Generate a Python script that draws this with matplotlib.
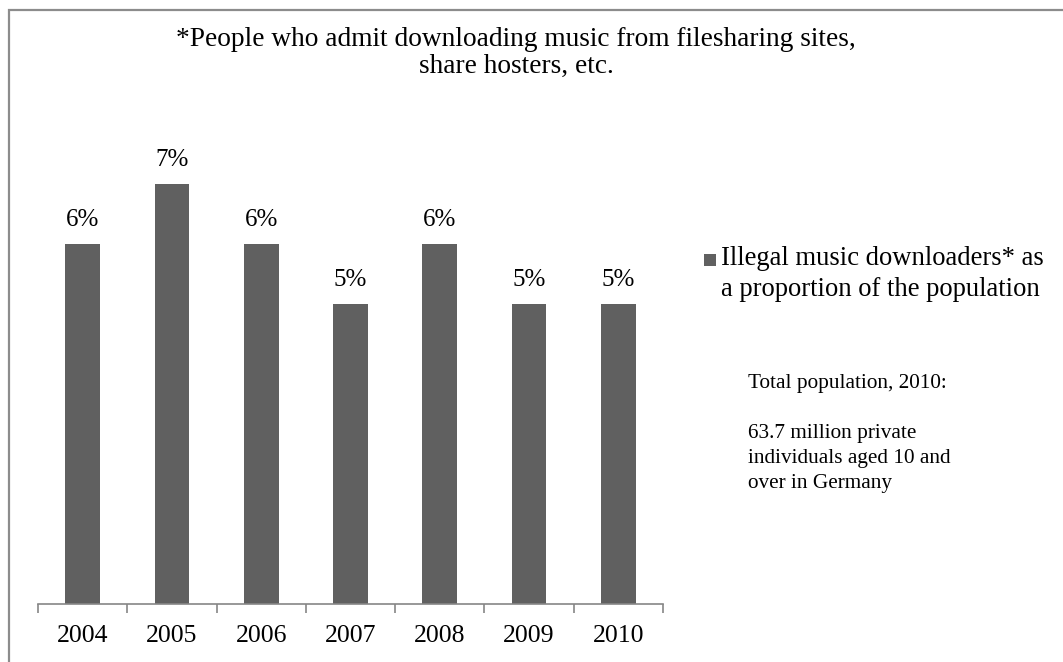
import matplotlib
matplotlib.use("Agg")
import matplotlib.pyplot as plt
from matplotlib.patches import Rectangle

years = ["2004", "2005", "2006", "2007", "2008", "2009", "2010"]
shares = [0.06, 0.07, 0.06, 0.05, 0.06, 0.05, 0.05]
value_labels = ["6%", "7%", "6%", "5%", "6%", "5%", "5%"]
series_lines = ["Illegal music downloaders* as", "a proportion of the population"]
title_text = "*People who admit downloading music from filesharing sites,\nshare hosters, etc."
note_lines = ["Total population, 2010:", "", "63.7 million private",
              "individuals aged 10 and", "over in Germany"]

plt.rcParams['font.family'] = ['Liberation Serif', 'DejaVu Serif']

W, H = 1063, 662
fig = plt.figure(figsize=(W / 100, H / 100), dpi=100)
fig.patch.set_facecolor("white")

def fx(px):
    return px / W

def fy(py):
    return 1 - py / H

# outer border (extends past right/bottom edge)
fig.patches.append(Rectangle((fx(8.5), -0.1), 1.2, fy(9.5) + 0.1, transform=fig.transFigure,
                             fill=False, edgecolor="#8c8c8c", linewidth=1.6))

bar_color = "#606060"
ax = fig.add_axes([fx(38), 58 / H, fx(663) - fx(38), 480 / H])
x = list(range(len(years)))
bars = ax.bar(x, shares, width=0.39, color=bar_color)
ax.set_xlim(-0.5, len(years) - 0.5)
ax.set_ylim(0, 0.08)

for xi, v, lab in zip(x, shares, value_labels):
    ax.annotate(lab, (xi, v), xytext=(0, 17.5), textcoords="offset points",
                ha="center", va="center", fontsize=18)

for s in ["top", "right", "left"]:
    ax.spines[s].set_visible(False)
ax.spines["bottom"].set_color("#868686")
ax.spines["bottom"].set_linewidth(1.2)
ax.set_yticks([])
ax.set_xticks(x)
ax.set_xticklabels(years, fontsize=18.5)
ax.tick_params(axis="x", which="major", length=0, pad=15)
ax.set_xticks([i - 0.5 for i in range(len(years) + 1)], minor=True)
ax.tick_params(axis="x", which="minor", length=6.5, width=1.2, color="#868686", direction="out")

# title
fig.text(fx(516), fy(53), title_text, ha="center", va="center", fontsize=19.7, linespacing=1.1)

# legend
fig.patches.append(Rectangle((fx(704), fy(266)), fx(12), 12 / H, transform=fig.transFigure,
                             facecolor=bar_color, edgecolor="none"))
for i, line in enumerate(series_lines):
    fig.text(fx(721), fy(265 + 31 * i), line, ha="left", va="baseline", fontsize=19.2)

# note
for i, line in enumerate(note_lines):
    fig.text(fx(748), fy(388 + 25 * i), line, ha="left", va="baseline", fontsize=15.3)

fig.savefig("out.png", dpi=100)
